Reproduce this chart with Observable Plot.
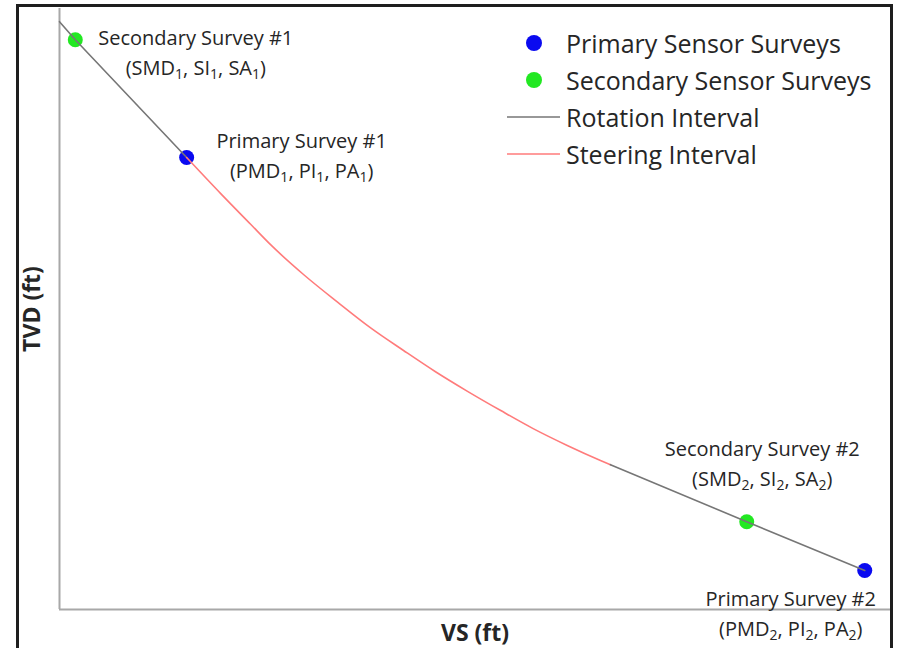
<!DOCTYPE html>
<html>
<head>
<meta charset="utf-8">
<script src="https://cdn.jsdelivr.net/npm/d3@7"></script>
<script src="https://cdn.jsdelivr.net/npm/@observablehq/plot@0.6"></script>
<style>
  html, body { margin: 0; padding: 0; background: #fff; overflow: hidden; width: 899px; height: 648px; }
  #wrap { position: relative; width: 899px; height: 648px; font-family: "Open Sans", sans-serif; color: #262626; }
  #frame { position: absolute; left: 16px; top: 4px; width: 871px; height: 720px; border: 3px solid #1e1e1e; }
  #chart { position: absolute; left: 0; top: 0; }
  #legend { position: absolute; left: 505px; top: 24px; font-size: 25px; }
  .row { display: flex; align-items: center; height: 37px; white-space: nowrap; }
  .row svg { width: 58px; height: 20px; margin-right: 3px; flex: none; }
</style>
</head>
<body>
<div id="wrap">
  <div id="frame"></div>
  <div id="chart"></div>
  <div id="legend"></div>
</div>
<script>
// ---- data (VS and TVD in ft, arbitrary units; no ticks on reference) ----
const surveyType  = ["Secondary", "Primary", "Secondary", "Primary"];
const surveyVS    = [19, 153, 827, 969];
const surveyTVD   = [52, 248, 854, 935];
const surveyName  = ["Secondary Survey #1", "Primary Survey #1", "Secondary Survey #2", "Primary Survey #2"];
const surveyVars  = ["(SMD_1, SI_1, SA_1)", "(PMD_1, PI_1, PA_1)", "(SMD_2, SI_2, SA_2)", "(PMD_2, PI_2, PA_2)"];

const rotation1VS  = [0, 19, 153];
const rotation1TVD = [22, 52, 248];
const steeringVS   = [153, 194, 230, 254, 294, 335, 374, 414, 452, 491, 531, 570, 611, 651, 663];
const steeringTVD  = [248, 308, 359, 393, 443, 489, 531, 569, 604, 637, 669, 699, 727, 752, 759];
const rotation2VS  = [663, 827, 969];
const rotation2TVD = [759, 854, 935];

const legendLabels = ["Primary Sensor Surveys", "Secondary Sensor Surveys", "Rotation Interval", "Steering Interval"];
const legendKinds  = ["dot", "dot", "line", "line"];

const axisXLabel = "VS (ft)";
const axisYLabel = "TVD (ft)";

// ---- styling ----
const BLUE = "#0a0af0", GREEN = "#22e822", GRAY = "#767676", RED = "#ff7b7b";
const legendColors = [BLUE, GREEN, GRAY, RED];
const colorOf = t => t === "Primary" ? BLUE : GREEN;

const surveys = surveyVS.map((v, i) => ({vs: v, tvd: surveyTVD[i], type: surveyType[i], name: surveyName[i], vars: surveyVars[i]}));
const toRows = (xs, ys) => xs.map((v, i) => ({vs: v, tvd: ys[i]}));
const rot1 = toRows(rotation1VS, rotation1TVD);
const steer = toRows(steeringVS, steeringTVD);
const rot2 = toRows(rotation2VS, rotation2TVD);

const labelOffsets = [[120.5, 10.5], [115, -4.5], [15.5, -60.5], [-74, 40.5]];
const labelMarks = surveys.map((s, i) => Plot.text([s], {
  x: "vs", y: "tvd",
  text: d => d.name + "\n" + d.vars,
  dx: labelOffsets[i][0], dy: labelOffsets[i][1],
  textAnchor: "middle", lineAnchor: "middle", lineHeight: 1.5,
  fontSize: 20, fill: "#262626"
}));

const chart = Plot.plot({
  width: 899, height: 648,
  marginLeft: 59, marginRight: 9, marginTop: 8, marginBottom: 39,
  x: {domain: [0, 1000], axis: null},
  y: {domain: [0, 1000], reverse: true, axis: null},
  style: {fontFamily: '"Open Sans", sans-serif', background: "transparent", color: "#262626", overflow: "visible"},
  marks: [
    Plot.ruleX([0], {stroke: "#a8a8a8", strokeWidth: 2}),
    Plot.ruleY([1000], {stroke: "#a8a8a8", strokeWidth: 2}),
    Plot.dot(surveys, {x: "vs", y: "tvd", r: 7.5, fill: d => colorOf(d.type), stroke: "none"}),
    Plot.line(rot1, {x: "vs", y: "tvd", stroke: GRAY, strokeWidth: 1.6}),
    Plot.line(steer, {x: "vs", y: "tvd", stroke: RED, strokeWidth: 1.6, curve: "monotone-x"}),
    Plot.line(rot2, {x: "vs", y: "tvd", stroke: GRAY, strokeWidth: 1.6}),
    ...labelMarks,
    Plot.text([axisXLabel], {text: d => d, frameAnchor: "bottom", dy: 24, textAnchor: "middle", lineAnchor: "middle", fontWeight: "bold", fontSize: 23, fill: "#262626"}),
    Plot.text([axisYLabel], {text: d => d, frameAnchor: "left", dx: -27, rotate: -90, textAnchor: "middle", lineAnchor: "middle", fontWeight: "bold", fontSize: 23, fill: "#262626"})
  ]
});

// subscripts: "_1" -> real subscript tspans
const SVGNS = "http://www.w3.org/2000/svg";
chart.querySelectorAll("text, tspan").forEach(el => {
  [...el.childNodes].forEach(node => {
    if (node.nodeType === 3 && node.nodeValue.includes("_")) {
      const parts = node.nodeValue.split(/_(\d)/);
      const frag = document.createDocumentFragment();
      parts.forEach((p, k) => {
        if (k % 2 === 0) { if (p) frag.appendChild(document.createTextNode(p)); }
        else {
          const t = document.createElementNS(SVGNS, "tspan");
          t.setAttribute("baseline-shift", "-4");
          t.setAttribute("font-size", "14");
          t.textContent = p;
          frag.appendChild(t);
        }
      });
      node.replaceWith(frag);
    }
  });
});
document.getElementById("chart").appendChild(chart);

// legend
const legend = document.getElementById("legend");
legendLabels.forEach((lab, i) => {
  const row = document.createElement("div");
  row.className = "row";
  const sw = legendKinds[i] === "dot"
    ? `<svg viewBox="0 0 58 20"><circle cx="29" cy="10" r="8" fill="${legendColors[i]}"/></svg>`
    : `<svg viewBox="0 0 58 20"><line x1="2" x2="55" y1="10" y2="10" stroke="${legendColors[i]}" stroke-width="1.6"/></svg>`;
  row.innerHTML = sw + `<span>${lab}</span>`;
  legend.appendChild(row);
});
</script>
</body>
</html>
